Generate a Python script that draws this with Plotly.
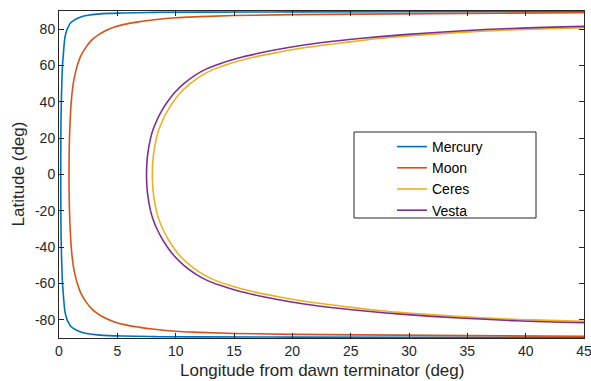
import plotly.graph_objects as go

# ---------------- data ----------------
mercury_lat = [-89.6, -89.55, -89.5, -89.4, -89.25, -88.9, -88.7, -88.3, -87.7, -87, -86, -85, -83.5, -82,
               -80, -78, -75, -70, -65, -60, -50, -30, 0, 30, 50, 60, 65, 70, 75, 78, 80, 82, 83.5, 85, 86,
               87, 87.7, 88.3, 88.7, 88.9, 89.25, 89.4, 89.5, 89.55, 89.6]
mercury_lon = [45, 30, 20, 12, 8.2, 5.4, 4.3, 3.3, 2.5, 2.0, 1.6, 1.3, 1.0, 0.85,
               0.7, 0.6, 0.5, 0.42, 0.36, 0.3, 0.24, 0.17, 0.15, 0.17, 0.24, 0.3, 0.36, 0.42, 0.5, 0.6, 0.7,
               0.85, 1.0, 1.3, 1.6, 2.0, 2.5, 3.3, 4.3, 5.4, 8.2, 12, 20, 30, 45]

moon_lat = [-89.0, -88.8, -88.4, -88, -87.5, -86.9, -86.3, -85.2, -84, -82.5, -81, -79, -77, -74, -70, -65,
            -60, -55, -50, -40, -20, 0, 20, 40, 50, 55, 60, 65, 70, 74, 77, 79, 81, 82.5, 84, 85.2, 86.3,
            86.9, 87.5, 88, 88.4, 88.8, 89.0]
moon_lon = [45, 38, 29, 20, 15, 12.1, 10, 8.2, 6.8, 5.5, 4.7, 3.95, 3.4, 2.8, 2.3, 1.85,
            1.57, 1.37, 1.22, 1.05, 0.9, 0.86, 0.9, 1.05, 1.22, 1.37, 1.57, 1.85, 2.3, 2.8, 3.4, 3.95, 4.7,
            5.5, 6.8, 8.2, 10, 12.1, 15, 20, 29, 38, 45]

ceres_lat = [-80.8, -80, -78.9, -77, -75, -72.5, -70, -67, -64, -61, -58, -55, -50, -45, -40, -35, -30,
             -25, -20, -10, 0, 10, 20, 25, 30, 35, 40, 45, 50, 55, 58, 61, 64, 67, 70, 72.5, 75, 77,
             78.9, 80, 80.8]
ceres_lon = [45, 40.5, 36.2, 31.5, 27.6, 24.3, 21.3, 18.6, 16.3, 14.6, 13.3, 12.35, 11.25, 10.4, 9.8, 9.3,
             8.9, 8.58, 8.35, 8.08, 8.0, 8.08, 8.35, 8.58, 8.9, 9.3, 9.8, 10.4, 11.25, 12.35, 13.3, 14.6,
             16.3, 18.6, 21.3, 24.3, 27.6, 31.5, 36.2, 40.5, 45]

vesta_lat = [-81.55, -80.5, -79, -77, -75, -72.5, -70, -67, -64, -61, -58, -55, -50, -45, -40, -35, -30,
             -25, -20, -10, 0, 10, 20, 25, 30, 35, 40, 45, 50, 55, 58, 61, 64, 67, 70, 72.5, 75, 77,
             79, 80.5, 81.55]
vesta_lon = [45, 39.2, 34.3, 29.6, 26.0, 22.4, 19.8, 17.3, 15.3, 13.8, 12.6, 11.75, 10.7, 9.9, 9.3, 8.8,
             8.4, 8.08, 7.85, 7.58, 7.5, 7.58, 7.85, 8.08, 8.4, 8.8, 9.3, 9.9, 10.7, 11.75, 12.6, 13.8,
             15.3, 17.3, 19.8, 22.4, 26.0, 29.6, 34.3, 39.2, 45]

series_names = ["Mercury", "Moon", "Ceres", "Vesta"]
series_colors = ["#0072BD", "#D95319", "#EDB120", "#7E2F8E"]

x_ticks = [0, 5, 10, 15, 20, 25, 30, 35, 40, 45]
x_ticktext = ["0", "5", "10", "15", "20", "25", "30", "35", "40", "45"]
y_ticks = [-80, -60, -40, -20, 0, 20, 40, 60, 80]
y_ticktext = ["-80", "-60", "-40", "-20", "0", "20", "40", "60", "80"]

# ---------------- figure ----------------
W, H = 591, 381
ML, MR, MT, MB = 59, 7, 11, 43
PW, PH = W - ML - MR, H - MT - MB
FONT = "Liberation Sans, Arial, Helvetica, sans-serif"
AX = "#262626"

def px_x(p):
    return (p - ML) / PW

def px_y(p):
    return (H - MB - p) / PH

fig = go.Figure()
data = [(mercury_lon, mercury_lat), (moon_lon, moon_lat), (ceres_lon, ceres_lat), (vesta_lon, vesta_lat)]
for (lon, lat), name, col in zip(data, series_names, series_colors):
    fig.add_trace(go.Scatter(
        x=lon, y=lat, mode="lines", name=name,
        line=dict(color=col, width=1.6, shape="spline", smoothing=1.0),
        cliponaxis=True,
    ))

axis_common = dict(
    showline=True, linecolor=AX, linewidth=1, mirror="ticks",
    ticks="inside", ticklen=5, tickwidth=1, tickcolor=AX,
    showgrid=False, zeroline=False, ticklabeloverflow="allow", automargin=False,
    tickfont=dict(family=FONT, size=14, color=AX),
)
fig.update_xaxes(range=[0, 45], tickvals=x_ticks, ticktext=x_ticktext, **axis_common)
fig.update_yaxes(range=[-90, 90], tickvals=y_ticks, ticktext=y_ticktext, **axis_common)

fig.add_shape(type="rect", xref="paper", yref="paper",
              x0=px_x(354), x1=px_x(536), y0=px_y(218), y1=px_y(132),
              line=dict(color=AX, width=1), fillcolor="white", layer="above")

fig.add_annotation(text="Longitude from dawn terminator (deg)", xref="paper", yref="paper",
                   x=0.5, y=px_y(370.5), xanchor="center", yanchor="middle", showarrow=False,
                   font=dict(family=FONT, size=17, color=AX))
fig.add_annotation(text="Latitude (deg)", xref="paper", yref="paper",
                   x=px_x(18), y=0.5, xanchor="center", yanchor="middle", showarrow=False,
                   textangle=-90, font=dict(family=FONT, size=17, color=AX))

fig.update_layout(
    width=W, height=H,
    margin=dict(l=ML, r=MR, t=MT, b=MB, pad=0, autoexpand=False),
    paper_bgcolor="white", plot_bgcolor="white",
    showlegend=True,
    legend=dict(x=px_x(392), y=px_y(131), xanchor="left", yanchor="top",
                bgcolor="rgba(0,0,0,0)", borderwidth=0, tracegroupgap=0,
                font=dict(family=FONT, size=14, color="#000000")),
)

fig.write_html("out.html", config={"displayModeBar": False},
               post_script="document.body.style.margin='0px';document.body.style.padding='0px';")
